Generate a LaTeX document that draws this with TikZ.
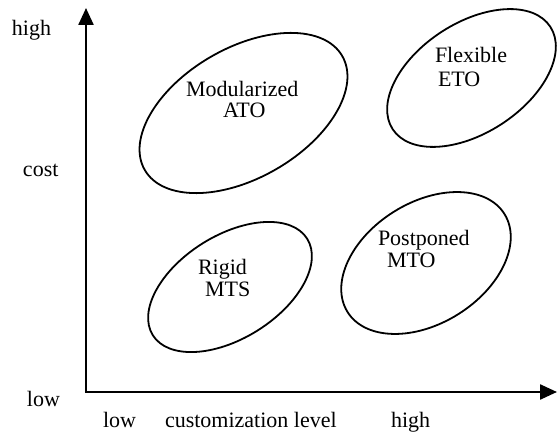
\documentclass[tikz,border=0pt]{standalone}
\usepackage{fontspec}
\setmainfont{Liberation Serif}
\usetikzlibrary{arrows.meta,shapes.geometric}
\begin{document}
\begin{tikzpicture}[x=1pt,y=-1pt,
  axisline/.style={line width=2.4pt,-{Triangle[length=17pt,width=15pt]}},
  region/.style={ellipse,draw,line width=1.8pt,inner sep=0pt,outer sep=0pt},
  lbl/.style={anchor=base west,inner sep=0pt,outer sep=0pt,font=\fontsize{22}{26}\selectfont}]
  \useasboundingbox (0,0) rectangle (557,435);

  % axes
  \coordinate (origin) at (86,392);
  \coordinate (ytop) at (86,8);
  \coordinate (xend) at (557,392);
  \draw[axisline] (origin) -- (ytop);
  \draw[axisline] ([xshift=-1.2pt]origin) -- (xend);

  % axis labels
  \node[lbl] (yhigh) at (12,36) {high};
  \node[lbl] (ycost) at (23,177) {cost};
  \node[lbl] (ylow) at (27,407) {low};
  \node[lbl] (xlow) at (103,428) {low};
  \node[lbl] (xname) at (165,428) {customization level};
  \node[lbl] (xhigh) at (391,428) {high};

  % regions
  \node[region,minimum width=228pt,minimum height=130pt,rotate=30] (ato) at (243.5,113) {};
  \node[region,minimum width=188pt,minimum height=110pt,rotate=33] (eto) at (471.5,78) {};
  \node[region,minimum width=182pt,minimum height=103pt,rotate=32] (mts) at (230,287) {};
  \node[region,minimum width=185pt,minimum height=121pt,rotate=32] (mto) at (426,263) {};

  % region labels
  \node[lbl] (atoA) at (186,97) {Modularized};
  \node[lbl] (atoB) at (223,118) {ATO};
  \node[lbl] (etoA) at (435,63) {Flexible};
  \node[lbl] (etoB) at (438,87) {ETO};
  \node[lbl] (mtsA) at (198,275) {Rigid};
  \node[lbl] (mtsB) at (205,297) {MTS};
  \node[lbl] (mtoA) at (378,246) {Postponed};
  \node[lbl] (mtoB) at (387,268) {MTO};
\end{tikzpicture}
\end{document}
